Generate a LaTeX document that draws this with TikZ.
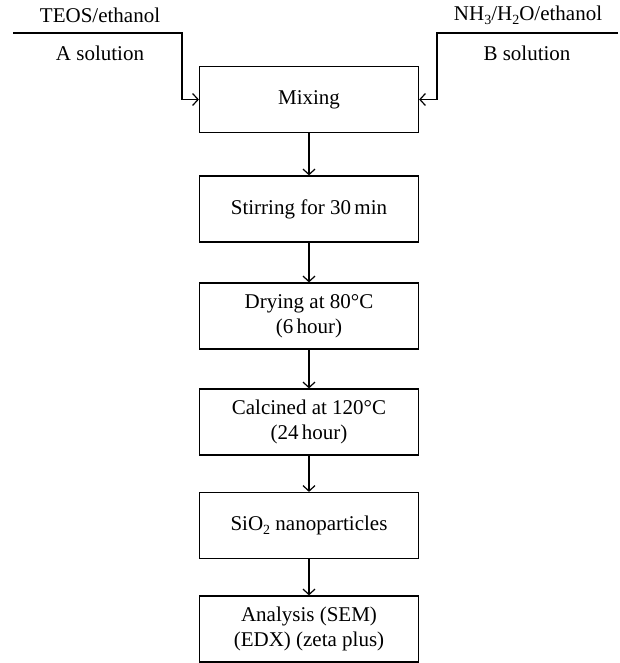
\documentclass[tikz,border=0pt]{standalone}
\usepackage{fontspec}
\setmainfont{Liberation Serif}
\usetikzlibrary{arrows.meta}
\newcommand\mysub[1]{\raisebox{-0.45ex}{\fontsize{14}{14}\selectfont #1}}
\begin{document}
\begin{tikzpicture}[x=1pt,y=-1pt,
  line width=1.2pt,
  stepbox/.style={draw, line width=1.2pt, minimum width=219pt, minimum height=66pt, align=center, font=\fontsize{21}{24.5}\selectfont, inner sep=0pt},
  lbl/.style={font=\fontsize{21}{24}\selectfont, inner sep=0pt},
  arr/.style={-{Straight Barb[length=5.5pt,width=12pt,line width=1.2pt]}}
]
\useasboundingbox (0,0) rectangle (619,663);
\node[stepbox] (mix) at (309,99.5) {Mixing};
\node[stepbox] (stir) at (309,209) {Stirring for 30\,min};
\node[stepbox] (dry) at (309,316) {Drying at 80°C\\(6\,hour)};
\node[stepbox] (cal) at (309,422) {Calcined at 120°C\\(24\,hour)};
\node[stepbox] (sio) at (309,525.5) {SiO\mysub{2} nanoparticles};
\node[stepbox] (ana) at (309,629) {Analysis (SEM)\\(EDX) (zeta plus)};

\coordinate (aL) at (13,33);
\coordinate (aC) at (182,33);
\coordinate (bR) at (618,33);
\coordinate (bC) at (437,33);

\node[lbl] (teos) at (100,15) {TEOS/ethanol};
\node[lbl] (asol) at (100,53) {A solution};
\node[lbl] (nh3) at (528,15) {NH\mysub{3}/H\mysub{2}O/ethanol};
\node[lbl] (bsol) at (527,53) {B solution};

\draw[arr] (aL) -- (aC) |- (mix.west);
\draw[arr] (bR) -- (bC) |- (mix.east);
\draw[arr] (mix) -- (stir);
\draw[arr] (stir) -- (dry);
\draw[arr] (dry) -- (cal);
\draw[arr] (cal) -- (sio);
\draw[arr] (sio) -- (ana);
\end{tikzpicture}
\end{document}
